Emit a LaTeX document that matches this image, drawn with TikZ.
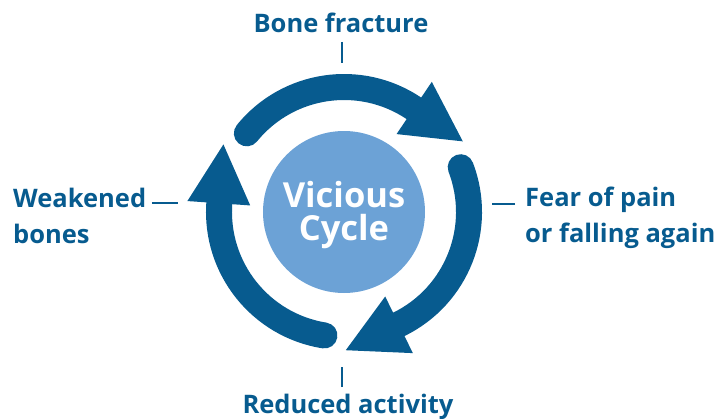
\documentclass[tikz,border=0pt]{standalone}
\usepackage{fontspec}
\setmainfont{Open Sans}
\usepackage{tikz}
\usetikzlibrary{calc}
\definecolor{Navy}{HTML}{075B8F}
\definecolor{Sky} {HTML}{6CA2D6}
\tikzset{
  lbl/.style={text=Navy, font=\fontsize{25.5}{36}\selectfont\bfseries, align=left, inner sep=0pt},
  ring/.style={draw=Navy, line width=26pt},
  tick/.style={draw=Navy, line width=2.2pt}
}
\begin{document}
\begin{tikzpicture}[x=1pt,y=1pt]
  \useasboundingbox (-344,-206) rectangle (373,212);
  % centre
  \node[circle, fill=Sky, minimum size=162pt, inner sep=0pt] (hub) at (0,0) {};
  \node[text=white, font=\fontsize{34.5}{33}\selectfont\bfseries, align=center, inner sep=0pt,
        anchor=base] (hubtxt) at (0,-28) {Vicious\\Cycle};
  % three arrows of the cycle
  \foreach \t in {141,21,261}{
    \pgfmathsetmacro{\b}{\t-85}
    \draw[ring, line cap=round] (\t:125) arc[start angle=\t, end angle=\b, radius=125];
    \fill[Navy] (\b:94) -- (\b:157) -- ($(\b:125)+(\b-90:59)$) -- cycle;
  }
  % labels
  \node[lbl, anchor=base] (bone) at (-3,179) {Bone fracture};
  \node[lbl, anchor=base] (reduced) at (4,-201) {Reduced activity};
  \node[lbl, anchor=base west] (weak) at (-331,-31) {Weakened\\bones};
  \node[lbl, anchor=base west] (fear) at (181,-30) {Fear of pain\\or falling again};
  \coordinate (bonetick) at (-2,149);
  \coordinate (redtick) at (-2,-155);
  \coordinate (weakdash) at (-166,9);
  \coordinate (feardash) at (148,8);
  \draw[tick] (bonetick |- 0,170) -- (bonetick);
  \draw[tick] (redtick |- 0,-175) -- (redtick);
  \draw[tick] (weakdash -| -192,0) -- (weakdash);
  \draw[tick] (feardash -| 171,0) -- (feardash);
\end{tikzpicture}
\end{document}
